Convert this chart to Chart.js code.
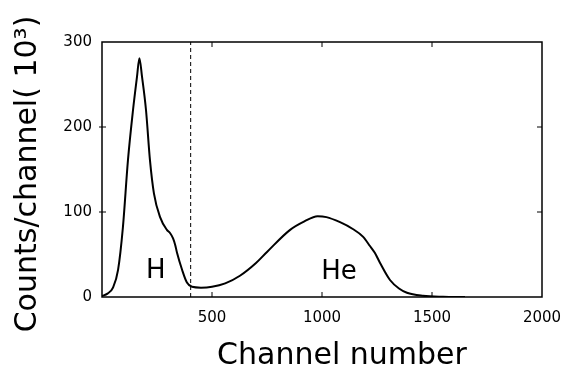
<!DOCTYPE html>
<html>
<head>
<meta charset="utf-8">
<script src="https://cdn.jsdelivr.net/npm/chart.js@4"></script>
<style>
  html, body { margin: 0; padding: 0; background: #fff; }
</style>
</head>
<body>
<canvas id="myChart" width="564" height="370"></canvas>
<script>
// pulse-height spectrum, counts per channel in thousands
const channels = [0, 25, 50, 73, 95, 118, 141, 159, 170, 182, 200, 218, 236, 264, 295, 310, 323, 333, 341, 364, 386, 409,
    450, 500, 560, 627, 700, 750, 855, 920, 980, 1020, 1082, 1140, 1186, 1218, 1240, 1264, 1309, 1350, 1386,
    1459, 1550, 1650]
const counts = [1, 4, 11, 32, 82, 161, 220, 259, 281, 259, 220, 161, 122, 94, 79, 75, 69, 61, 52, 32, 17, 12,
    11, 12, 16, 25, 40, 53, 79, 89, 95, 94, 88, 80, 71, 60, 52, 40, 20, 10, 5,
    1.5, 0.3, 0]

// H / He separation cut
const cutChannel = 403
const xTicks = [500, 1000, 1500, 2000]
const yTicks = [0, 100, 200, 300]

const peakNames = ['H', 'He']
const peakChannel = [245, 1077]
const peakHeight = [30, 29]

const FONT = "'DejaVu Sans', sans-serif"

const spectrum = channels.map((c, i) => ({ x: c, y: counts[i] }))
const cutLine = [{ x: cutChannel, y: 0 }, { x: cutChannel, y: 300 }]

const decorations = {
    id: 'decorations',
    afterDraw(chart) {
        const ctx = chart.ctx
        const area = chart.chartArea
        const xs = chart.scales.x
        const ys = chart.scales.y
        ctx.save()
        ctx.strokeStyle = '#000'
        ctx.lineWidth = 1.5
        ctx.strokeRect(area.left, area.top, area.right - area.left, area.bottom - area.top)

        // small inward ticks on all four sides
        ctx.lineWidth = 1
        ctx.beginPath()
        xTicks.slice(0, -1).forEach(v => {
            const px = xs.getPixelForValue(v)
            ctx.moveTo(px, area.bottom); ctx.lineTo(px, area.bottom - 5)
            ctx.moveTo(px, area.top); ctx.lineTo(px, area.top + 5)
        })
        yTicks.slice(1, -1).forEach(v => {
            const py = ys.getPixelForValue(v)
            ctx.moveTo(area.left - 3, py); ctx.lineTo(area.left + 4, py)
            ctx.moveTo(area.right, py); ctx.lineTo(area.right - 5, py)
        })
        ctx.stroke()

        ctx.fillStyle = '#000'
        ctx.textAlign = 'center'
        ctx.textBaseline = 'middle'
        ctx.font = '26px ' + FONT
        peakNames.forEach((name, i) => {
            ctx.fillText(name, xs.getPixelForValue(peakChannel[i]), ys.getPixelForValue(peakHeight[i]))
        })

        // axis titles
        ctx.font = '30px ' + FONT
        ctx.fillText('Channel number', 342, 356)
        ctx.translate(28, 174)
        ctx.rotate(-Math.PI / 2)
        ctx.fillText('Counts/channel( 10\u00B3)', 0, 0)
        ctx.restore()
    }
}

const myChart = () => {
    const ctx = document.getElementById('myChart')
    new Chart(ctx, {
        type: 'line',
        data: {
            datasets: [
                {
                    label: 'spectrum',
                    data: spectrum,
                    borderColor: '#000',
                    borderWidth: 2,
                    pointRadius: 0,
                    cubicInterpolationMode: 'monotone',
                    fill: false
                },
                {
                    label: 'cut',
                    data: cutLine,
                    borderColor: '#000',
                    borderWidth: 1,
                    borderDash: [4, 3],
                    pointRadius: 0,
                    fill: false
                }
            ]
        },
        options: {
            responsive: false,
            animation: false,
            layout: { padding: { top: 42, right: 0, left: 0, bottom: 0 } },
            plugins: { legend: { display: false }, tooltip: { enabled: false } },
            scales: {
                x: {
                    type: 'linear',
                    min: 0,
                    max: 2000,
                    afterFit: (scale) => {
                        scale.height = 73
                        scale.paddingLeft = 0
                        scale.paddingRight = 22
                    },
                    afterBuildTicks: (scale) => { scale.ticks = xTicks.map(v => ({ value: v })) },
                    grid: { display: false, drawTicks: false },
                    border: { display: false },
                    ticks: {
                        padding: 12,
                        maxRotation: 0,
                        color: '#000',
                        font: { family: FONT, size: 15 },
                        callback: (value) => String(value)
                    }
                },
                y: {
                    min: 0,
                    max: 300,
                    afterFit: (scale) => {
                        scale.width = 102
                        scale.paddingTop = 0
                        scale.paddingBottom = 0
                    },
                    afterBuildTicks: (scale) => { scale.ticks = yTicks.map(v => ({ value: v })) },
                    grid: { display: false, drawTicks: false },
                    border: { display: false },
                    ticks: {
                        padding: 10,
                        color: '#000',
                        font: { family: FONT, size: 15 }
                    }
                }
            }
        },
        plugins: [decorations]
    })
}
myChart()
</script>
</body>
</html>
